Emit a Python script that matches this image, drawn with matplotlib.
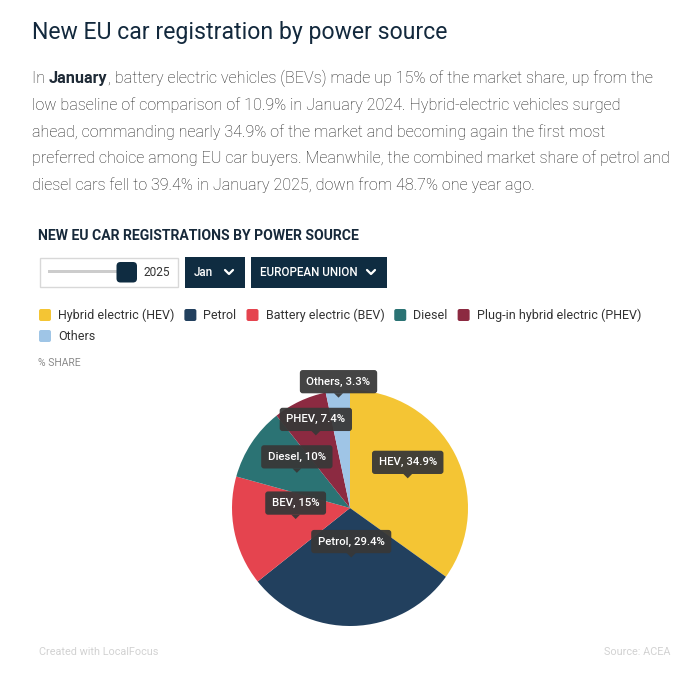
import matplotlib.pyplot as plt
from matplotlib.patches import FancyBboxPatch, Rectangle, Polygon
import numpy as np

plt.rcParams['font.family'] = ['Roboto', 'DejaVu Sans']

# data
categories = ['Hybrid electric (HEV)', 'Petrol', 'Battery electric (BEV)',
              'Diesel', 'Plug-in hybrid electric (PHEV)', 'Others']
short_names = ['HEV', 'Petrol', 'BEV', 'Diesel', 'PHEV', 'Others']
shares = [34.9, 29.4, 15, 10, 7.4, 3.3]
colors = ['#F4C534', '#22405E', '#E5444F', '#2B7374', '#8C2A41', '#9FC5E6']
label_dist = [0.55, 0.42, 0.47, 0.54, 0.68, 0.94]

title = 'New EU car registration by power source'
body_lines = [
    [('In ', False), ('January', True),
     (', battery electric vehicles (BEVs) made up 15% of the market share, up from the', False)],
    [('low baseline of comparison of 10.9% in January 2024. Hybrid-electric vehicles surged', False)],
    [('ahead, commanding nearly 34.9% of the market and becoming again the first most', False)],
    [('preferred choice among EU car buyers. Meanwhile, the combined market share of petrol and', False)],
    [('diesel cars fell to 39.4% in January 2025, down from 48.7% one year ago.', False)],
]
chart_title = 'NEW EU CAR REGISTRATIONS BY POWER SOURCE'
year = '2025'
month = 'Jan'
region = 'EUROPEAN UNION'

W, H = 689, 680
fig = plt.figure(figsize=(W / 100, H / 100), dpi=100)

# pie in its own axes: centre (350, 508) px, radius 118 px
cx, cy, R = 350, 508, 118
axp = fig.add_axes([(cx - R) / W, (H - cy - R) / H, 2 * R / W, 2 * R / H])
axp.pie(shares, colors=colors, startangle=90, counterclock=False, radius=1,
        wedgeprops=dict(linewidth=0))
axp.set_xlim(-1, 1)
axp.set_ylim(-1, 1)

# overlay in pixel coords
ax = fig.add_axes([0, 0, 1, 1])
ax.set_xlim(0, W)
ax.set_ylim(H, 0)
ax.axis('off')
ax.patch.set_alpha(0)
r = fig.canvas.get_renderer()


def text_w(t):
    return t.get_window_extent(renderer=r).width


ax.text(32, 39.5, title, fontsize=16.6, color='#13293D', va='baseline')

y = 83
for line in body_lines:
    x = 32
    for s, bold in line:
        t = ax.text(x, y, s, fontsize=11.6, va='baseline',
                    color='#1E2A36' if bold else '#1F1F1F',
                    fontweight='bold' if bold else 'light')
        x += text_w(t)
    y += 26.8

ax.text(38, 240, chart_title, fontsize=10.1, fontweight='bold', color='#17293A',
        va='baseline')

# slider
ax.add_patch(Rectangle((39.5, 257.5), 138, 29.5, fc='white', ec='#D8D8D8', lw=1))
ax.add_patch(Rectangle((48, 270), 70, 2.5, fc='#CCCCCC', ec='none'))
ax.add_patch(FancyBboxPatch((116.5, 262), 20.5, 20.5, boxstyle='round,pad=0,rounding_size=4',
                            fc='#0F2C41', ec='none'))
ax.text(144, 276.5, year, fontsize=8.6, color='#333333', va='baseline')

# dropdown buttons
for bx, bw, lab in [(185, 60, month), (251, 136, region)]:
    ax.add_patch(Rectangle((bx, 257), bw, 31, fc='#0F2C41', ec='none'))
    ax.text(bx + 9, 276.5, lab, fontsize=8.4, color='white', fontweight='medium',
            va='baseline')
    chx = bx + bw - 16
    ax.plot([chx - 4, chx, chx + 4], [270, 274, 270], color='white', lw=1.6,
            solid_capstyle='round', solid_joinstyle='round')

# legend
lx, ly = 39, 315
for name, c in zip(categories, colors):
    t = ax.text(lx + 19, ly + 4.3, name, fontsize=9.0, color='#333333', va='baseline')
    w = text_w(t)
    if lx + 19 + w > 660:
        lx, ly = 39, ly + 21
        t.set_position((lx + 19, ly + 4.3))
    ax.add_patch(FancyBboxPatch((lx, ly - 6), 12, 12, boxstyle='round,pad=0,rounding_size=2',
                                fc=c, ec='none'))
    lx += 19 + w + 10

ax.text(38, 366, '% SHARE', fontsize=7.5, color='#8A8A8A', va='baseline')

# data labels (tooltip style)
cum = 0
for name, v, d in zip(short_names, shares, label_dist):
    ang = np.deg2rad(90 - (cum + v / 2) * 3.6)
    cum += v
    px = cx + d * R * np.cos(ang)
    py = cy - d * R * np.sin(ang)
    ax.add_patch(Polygon([[px, py], [px - 4.5, py - 4.5], [px + 4.5, py - 4.5]],
                         closed=True, fc='#383838', ec='none', alpha=0.94, zorder=5))
    ax.text(px, py - 16, f'{name}, {v:g}%', fontsize=8.2, color='white', ha='center',
            va='center', zorder=6, fontweight='medium',
            bbox=dict(boxstyle='round,pad=0.58,rounding_size=0.25', fc='#383838',
                      ec='none', alpha=0.94))

# footer
ax.text(39, 655, 'Created with LocalFocus', fontsize=7.8, color='#D2D2D2', va='baseline')
ax.text(670, 655, 'Source: ACEA', fontsize=7.8, color='#D2D2D2', va='baseline', ha='right')

fig.savefig('out.png', dpi=100)
